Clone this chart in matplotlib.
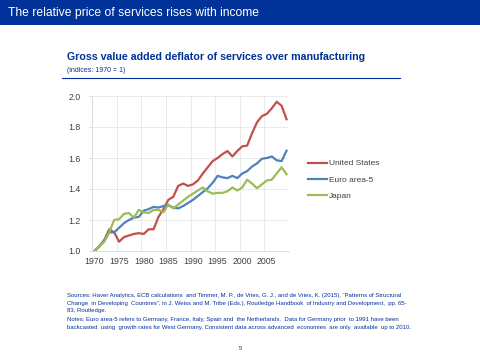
import matplotlib
matplotlib.use("Agg")
import matplotlib.pyplot as plt
from matplotlib.lines import Line2D

plt.rcParams['font.family'] = ['Liberation Sans', 'DejaVu Sans']

years = list(range(1970, 2010))
united_states = [1.00, 1.03, 1.07, 1.14, 1.12, 1.06, 1.09, 1.10, 1.11, 1.115,
                 1.11, 1.14, 1.14, 1.22, 1.27, 1.33, 1.35, 1.42, 1.435, 1.42,
                 1.43, 1.455, 1.50, 1.54, 1.58, 1.60, 1.625, 1.645, 1.61, 1.645,
                 1.675, 1.68, 1.76, 1.83, 1.87, 1.885, 1.92, 1.963, 1.937, 1.85]
euro_area_5 = [1.00, 1.03, 1.07, 1.12, 1.12, 1.15, 1.18, 1.20, 1.215, 1.22,
               1.26, 1.27, 1.285, 1.28, 1.29, 1.295, 1.28, 1.275, 1.29, 1.31,
               1.33, 1.355, 1.38, 1.405, 1.44, 1.485, 1.475, 1.47, 1.485, 1.47,
               1.50, 1.515, 1.545, 1.565, 1.595, 1.60, 1.61, 1.585, 1.58, 1.647]
japan = [1.00, 1.03, 1.06, 1.12, 1.20, 1.205, 1.24, 1.245, 1.215, 1.265,
         1.25, 1.245, 1.265, 1.265, 1.25, 1.30, 1.275, 1.30, 1.325, 1.35,
         1.37, 1.39, 1.41, 1.385, 1.37, 1.375, 1.375, 1.385, 1.41, 1.39,
         1.41, 1.46, 1.435, 1.405, 1.43, 1.455, 1.46, 1.50, 1.54, 1.495]
series_names = ["United States", "Euro area-5", "Japan"]
colors = ["#C0504D", "#4F81BD", "#9BBB59"]
x_ticks = list(range(1970, 2010, 5))
y_ticks = [1.0, 1.2, 1.4, 1.6, 1.8, 2.0]

header = "The relative price of services rises with income"
chart_title = "Gross value added deflator of services over manufacturing"
chart_sub = "(indices: 1970 = 1)"
footnotes = [
    "Sources: Haver Analytics, ECB calculations  and Timmer, M. P., de Vries, G. J., and de Vries, K. (2015), \u201cPatterns of Structural",
    "Change  in Developing  Countries\u201d, in J. Weiss and M. Tribe (Eds.), Routledge Handbook  of Industry and Development,  pp. 65-",
    "83, Routledge.",
    "Notes: Euro area-5 refers to Germany, France, Italy, Spain and  the Netherlands.  Data for Germany prior  to 1991 have been",
    "backcasted  using  growth rates for West Germany. Consistent data across advanced  economies  are only  available  up to 2010.",
]
navy = "#003299"

fig = plt.figure(figsize=(4.8, 3.6), dpi=100)
fig.patch.set_facecolor("white")

# header bar
fig.patches.append(plt.Rectangle((0, 1 - 25/360), 1, 25/360, transform=fig.transFigure,
                                 facecolor=navy, edgecolor="none", zorder=0))
fig.text(8/480, 1 - 13/360, header, color="white", fontsize=8.7, va="center", ha="left")

fig.text(67/480, 1 - 57/360, chart_title, color=navy, fontsize=7.7, fontweight="bold",
         va="center", ha="left")
fig.text(67/480, 1 - 70/360, chart_sub, color=navy, fontsize=5.0, va="center", ha="left")
fig.add_artist(Line2D([62/480, 400/480], [1 - 78/360, 1 - 78/360], transform=fig.transFigure,
                      color=navy, lw=0.8))

ax = fig.add_axes([92/480, 1 - 251/360, (289 - 92)/480, (251 - 96)/360])
for vals, name, c in zip([united_states, euro_area_5, japan], series_names, colors):
    ax.plot(years, vals, color=c, lw=1.6, label=name, solid_joinstyle="round")
ax.set_xlim(1969.5, 2009.5)
ax.set_ylim(1.0, 2.0)
ax.set_xticks(x_ticks)
ax.set_xticklabels([str(t) for t in x_ticks])
ax.set_yticks(y_ticks)
ax.set_yticklabels([f"{t:.1f}" for t in y_ticks])
for gx in [t - 0.5 for t in x_ticks] + [2009.5]:
    ax.axvline(gx, color="#E6E6E6", lw=0.6, zorder=0)
for gy in y_ticks:
    ax.axhline(gy, color="#E6E6E6", lw=0.6, zorder=0)
for s in ["top", "right"]:
    ax.spines[s].set_visible(False)
for s in ["left", "bottom"]:
    ax.spines[s].set_color("#D9D9D9")
    ax.spines[s].set_linewidth(0.6)
ax.tick_params(axis="both", labelsize=6.3, colors="#404040", length=2, width=0.6,
               color="#D9D9D9", pad=2)
ax.tick_params(axis="y", pad=6)
ax.tick_params(axis="x", length=0, pad=4)

leg = ax.legend(loc="center left", bbox_to_anchor=(1.06, 0.46), frameon=False, fontsize=6.0,
                handlelength=2.2, labelspacing=1.0, handletextpad=0.3)
for t in leg.get_texts():
    t.set_color("#404040")

ys = [296, 303.5, 310.5, 320, 327.5]
for y, line in zip(ys, footnotes):
    fig.text(67/480, 1 - y/360, line, color=navy, fontsize=4.3, va="center", ha="left")
fig.text(240/480, 1 - 349/360, "5", color=navy, fontsize=4.2, va="center", ha="center")

fig.savefig("out.png", dpi=100)
